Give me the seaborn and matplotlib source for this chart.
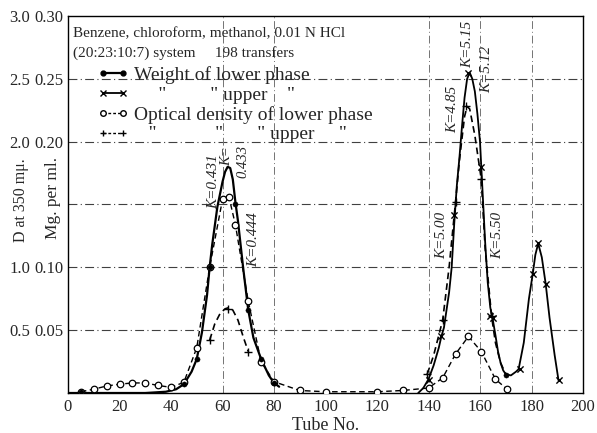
import numpy as np
import pandas as pd
import matplotlib
matplotlib.use("Agg")
import matplotlib.pyplot as plt
import seaborn as sns
from matplotlib.lines import Line2D

sns.set_theme(style="white")
plt.rcParams['font.family'] = ['Liberation Serif', 'DejaVu Serif']

# ---------------- data ----------------
# Weight of lower phase (solid line, filled dots)
wl_curve_t = [0, 5, 10, 20, 30, 38, 42, 45, 48, 50, 52, 54, 55, 56, 58, 60, 61, 62, 63, 64, 65, 66, 68, 70, 72, 75, 78, 80, 82]
wl_curve_v = [0.000, 0.000, 0.000, 0.000, 0.000, 0.001, 0.003, 0.007, 0.017, 0.027, 0.048, 0.078, 0.100, 0.118,
              0.148, 0.168, 0.176, 0.180, 0.179, 0.170, 0.152, 0.137, 0.100, 0.066, 0.044, 0.027, 0.014, 0.008, 0.005]
wl_pts_t = [5, 45, 50, 55, 65, 70, 75, 80, 170]
wl_pts_v = [0.001, 0.007, 0.027, 0.100, 0.150, 0.066, 0.027, 0.008, 0.014]

# Weight of upper phase (solid line, x markers)
wu_curve_t = [136, 138, 140, 142, 144, 145, 146, 148, 149, 150, 151, 152, 153, 154, 155, 156, 157, 158, 159, 160,
              161, 162, 163, 164, 165, 166, 167, 168, 169, 170, 172, 174, 175, 177, 179, 180.5, 181.5, 182.6, 184,
              185.5, 187, 189, 190.5]
wu_curve_v = [0.000, 0.004, 0.011, 0.022, 0.036, 0.045, 0.052, 0.080, 0.100, 0.135, 0.165, 0.187, 0.212, 0.235,
              0.250, 0.255, 0.250, 0.240, 0.222, 0.200, 0.160, 0.120, 0.088, 0.068, 0.058, 0.046, 0.033, 0.024,
              0.018, 0.015, 0.014, 0.017, 0.019, 0.040, 0.075, 0.095, 0.110, 0.119, 0.108, 0.087, 0.060, 0.030, 0.010]
wu_pts_t = [140, 145, 150, 155.5, 160.5, 164, 165.2, 175.5, 180.5, 182.6, 185.5, 190.7]
wu_pts_v = [0.010, 0.045, 0.142, 0.255, 0.180, 0.061, 0.060, 0.019, 0.095, 0.119, 0.087, 0.010]

# Optical density of lower phase (dashed line, open circles)
odl_t = [5, 10, 15, 20, 25, 30, 35, 40, 45, 50, 55, 60, 62.5, 65, 70, 75, 80, 90, 100, 120, 130, 140, 145.5,
         150.5, 155.5, 160.5, 166, 170.5]
odl_v = [0.001, 0.003, 0.0056, 0.007, 0.008, 0.008, 0.006, 0.0045, 0.0085, 0.036, 0.100, 0.154, 0.156, 0.134,
         0.073, 0.025, 0.009, 0.002, 0.001, 0.001, 0.002, 0.004, 0.012, 0.031, 0.045, 0.033, 0.011, 0.003]

# Optical density of upper phase (dashed line, + markers)
odu1_curve_t = [55, 57, 59, 61, 62.5, 64, 66, 68, 70]
odu1_curve_v = [0.042, 0.055, 0.063, 0.067, 0.068, 0.066, 0.058, 0.045, 0.033]
odu2_curve_t = [139.5, 142, 145.5, 148, 150.5, 152, 154, 155, 156, 158, 160.5, 162, 164.5, 166, 168, 170]
odu2_curve_v = [0.015, 0.030, 0.058, 0.100, 0.152, 0.185, 0.220, 0.228, 0.226, 0.205, 0.170, 0.115, 0.061,
                0.040, 0.024, 0.015]
odu_pts_t = [55, 62.3, 70, 139.5, 145.5, 150.5, 154.6, 160.4, 164.5]
odu_pts_v = [0.042, 0.067, 0.033, 0.015, 0.058, 0.152, 0.228, 0.170, 0.061]

x_ticks = [0, 20, 40, 60, 80, 100, 120, 140, 160, 180, 200]
mg_ticks = [0.05, 0.10, 0.15, 0.20, 0.25, 0.30]
mg_labels = ["0.05", "0.10", "", "0.20", "0.25", "0.30"]
d_ticks = [0.5, 1.0, 2.0, 2.5, 3.0]
d_labels = ["0.5", "1.0", "2.0", "2.5", "3.0"]

legend_labels = ["Weight of lower phase",
                 '     "' + ' ' * 9 + '" upper    "',
                 "Optical density of lower phase",
                 '   "' + ' ' * 12 + '"' + ' ' * 7 + '" upper     "']

# ---------------- figure ----------------
W, H = 597, 433
fig = plt.figure(figsize=(W / 100, H / 100), dpi=100)
ax = fig.add_axes([68 / W, 40 / H, 515 / W, 377 / H])

num_font = ['Liberation Serif', 'DejaVu Serif']

# grid lines (dash-dot)
for yv in [0.05, 0.10, 0.15, 0.20, 0.25]:
    ax.axhline(yv, color='0.25', lw=0.8, ls=(0, (8, 3, 1, 3)), zorder=0)
for xv in [60, 80, 140, 160, 180]:
    ax.axvline(xv, color='0.45', lw=0.7, ls=(0, (8, 3, 1, 3)), zorder=0)

k = dict(color='black', estimator=None, sort=False, ax=ax, legend=False)
sns.lineplot(x=wl_curve_t, y=wl_curve_v, lw=1.6, **k)
sns.lineplot(x=wu_curve_t, y=wu_curve_v, lw=1.3, **k)
sns.lineplot(x=odl_t, y=odl_v, lw=1.0, linestyle=(0, (4, 2.5)), **k)
sns.lineplot(x=odu1_curve_t, y=odu1_curve_v, lw=1.2, linestyle=(0, (4, 2.5)), **k)
sns.lineplot(x=odu2_curve_t, y=odu2_curve_v, lw=1.2, linestyle=(0, (4, 2.5)), **k)

sns.scatterplot(x=odl_t, y=odl_v, marker='o', s=22, facecolor='white', edgecolor='black', linewidth=0.9, ax=ax, zorder=4)
sns.scatterplot(x=wl_pts_t, y=wl_pts_v, marker='o', s=14, color='black', edgecolor='black', ax=ax, zorder=5)
sns.scatterplot(x=wu_pts_t, y=wu_pts_v, marker='x', s=20, color='black', linewidth=1.0, ax=ax, zorder=5)
sns.scatterplot(x=odu_pts_t, y=odu_pts_v, marker='+', s=36, color='black', linewidth=1.0, ax=ax, zorder=5)

ax.set_xlim(0, 200)
ax.set_ylim(0, 0.30)
ax.set_xticks(x_ticks)
ax.set_xticklabels([str(t) for t in x_ticks], family=num_font, fontsize=12)
ax.set_yticks(mg_ticks)
ax.set_yticklabels(mg_labels, family=num_font, fontsize=12)
ax.tick_params(axis='both', direction='in', length=4, width=0.8, color='black', pad=3)
ax.tick_params(axis='x', length=0, pad=4)
for s in ax.spines.values():
    s.set_color('black')
    s.set_linewidth(1.0)

sec = ax.secondary_yaxis(-0.068, functions=(lambda y: y * 10, lambda y: y / 10))
sec.set_yticks(d_ticks)
sec.set_yticklabels(d_labels, family=num_font, fontsize=12)
sec.tick_params(length=0, pad=2)
sec.spines['left'].set_visible(False)

ax.set_xlabel("Tube No.", fontsize=13, labelpad=2)
fig.text(53 / W, 1 - 198 / H, "Mg. per ml.", rotation=90, ha='center', va='center', fontsize=12.5)
fig.text(21 / W, 1 - 200 / H, "D at 350 m\u03bc.", rotation=90, ha='center', va='center', fontsize=11.5)

# header texts
ax.text(0.009, 0.952, "Benzene, chloroform, methanol, 0.01 N HCl", transform=ax.transAxes,
        fontsize=11, va='center', ha='left')
ax.text(0.009, 0.902, "(20:23:10:7) system     198 transfers", transform=ax.transAxes,
        fontsize=11, va='center', ha='left')

# legend
handles = [
    Line2D([], [], color='black', lw=1.6, marker='o', ms=3.5),
    Line2D([], [], color='black', lw=1.3, marker='x', ms=4),
    Line2D([], [], color='black', lw=1.0, ls=(0, (2, 1.5)), marker='o', ms=4, mfc='white'),
    Line2D([], [], color='black', lw=1.0, ls=(0, (2, 1.5)), marker='+', ms=5),
]
leg = ax.legend(handles, legend_labels, loc='upper left', bbox_to_anchor=(0.038, 0.893), frameon=False,
                numpoints=2, handlelength=1.6, handletextpad=0.3, labelspacing=0.11, borderpad=0,
                prop={'size': 14})

# K annotations (rotated, italic)
def ktext(xp, yp, s, fs=11):
    ax.text((xp - 68) / 2.575, (393 - yp) / 1256, s, rotation=90, ha='center', va='center',
            fontsize=fs, style='italic')

ktext(214, 182, "K=0.431")
ktext(227, 156, "K=", 10.5)
ktext(243, 162, "0.433", 10.5)
ktext(254, 240, "K=0.444")
ktext(453, 110, "K=4.85")
ktext(468, 45, "K=5.15")
ktext(487, 70, "K=5.12")
ktext(442, 236, "K=5.00")
ktext(498, 236, "K=5.50")

fig.savefig("out.png", dpi=100)
